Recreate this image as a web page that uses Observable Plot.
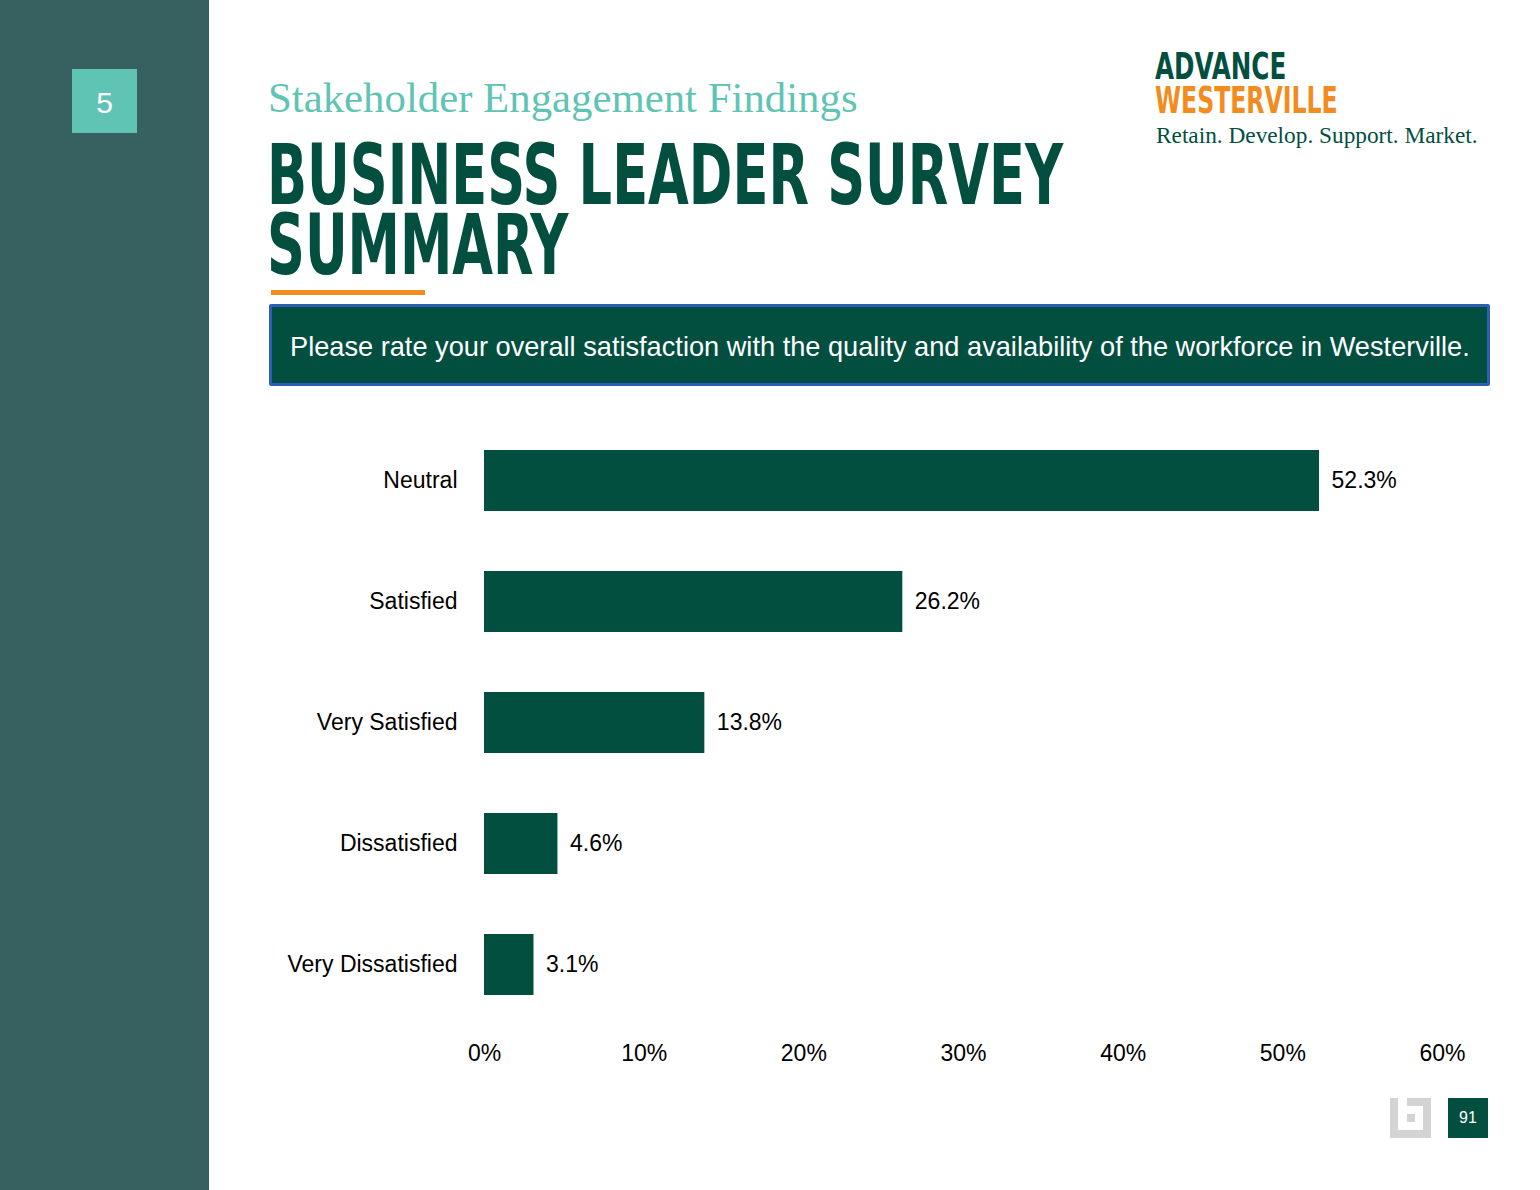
<!DOCTYPE html>
<html>
<head>
<meta charset="utf-8">
<script src="https://cdn.jsdelivr.net/npm/d3@7"></script>
<script src="https://cdn.jsdelivr.net/npm/@observablehq/plot@0.6"></script>
<style>
  html, body { margin: 0; padding: 0; }
  body { width: 1540px; height: 1190px; position: relative; background: #ffffff; overflow: hidden; font-family: "Liberation Sans", Arial, sans-serif; }
  .sidebar { position: absolute; left: 0; top: 0; width: 209px; height: 1190px; background: #376160; }
  .secnum { position: absolute; left: 72px; top: 69px; width: 65px; height: 64px; background: #5fc4b4; color: #fff; font-size: 30px; line-height: 30px; display: flex; align-items: center; justify-content: center; padding-top: 3px; box-sizing: border-box; }
  .kicker { position: absolute; left: 268px; top: 73px; font-family: "Liberation Serif", "DejaVu Serif", serif; font-size: 42.8px; color: #5fc4b4; white-space: nowrap; }
  .title { position: absolute; left: 267px; font-family: "DejaVu Sans Condensed", "DejaVu Sans", sans-serif; font-weight: bold; font-size: 84px; line-height: 70px; height: 70px; color: #024f3f; white-space: nowrap; transform-origin: 0 0; transform: scaleX(0.696); }
  .t1 { top: 140px; }
  .t2 { top: 210px; }
  .rule { position: absolute; left: 271px; top: 290px; width: 154px; height: 5px; background: #f28c1e; }
  .question { position: absolute; left: 269px; top: 304px; width: 1197px; height: 76px; background: #024f3f; border: 3px solid #2f5fb5; border-radius: 2px; color: #fff; font-size: 27.2px; display: flex; align-items: center; padding-left: 18px; padding-top: 3px; box-sizing: content-box; white-space: nowrap; }
  .question { height: 73px; }
  .logo1 { position: absolute; left: 1155px; top: 50px; height: 33px; font-family: "DejaVu Sans Condensed", "DejaVu Sans", sans-serif; font-weight: bold; font-size: 38px; line-height: 33px; color: #024f3f; transform-origin: 0 0; transform: scaleX(0.72); white-space: nowrap; }
  .logo2 { position: absolute; left: 1155px; top: 84px; height: 33px; font-family: "DejaVu Sans Condensed", "DejaVu Sans", sans-serif; font-weight: bold; font-size: 38px; line-height: 33px; color: #f28c1e; transform-origin: 0 0; transform: scaleX(0.69); white-space: nowrap; }
  .tagline { position: absolute; left: 1156px; top: 122px; font-family: "Liberation Serif", "DejaVu Serif", serif; font-size: 23.3px; line-height: 26px; color: #024f3f; white-space: nowrap; }
  #chart { position: absolute; left: 260px; top: 400px; }
  .icon { position: absolute; left: 1390px; top: 1098px; width: 41px; height: 40px; background: #d4d4d4; }
  .icon .in { position: absolute; left: 8px; top: 8px; width: 25px; height: 24px; background: #fff; }
  .icon .cut { position: absolute; left: 8px; top: 0px; width: 9px; height: 8px; background: #fff; }
  .icon .dot { position: absolute; left: 17px; top: 16px; width: 8px; height: 8px; background: #d4d4d4; }
  .pagenum { position: absolute; left: 1448px; top: 1098px; width: 40px; height: 40px; background: #024f3f; color: #fff; font-size: 16px; display: flex; align-items: center; justify-content: center; }
</style>
</head>
<body>
<div class="sidebar"></div>
<div class="secnum">5</div>
<div class="kicker">Stakeholder Engagement Findings</div>
<div class="title t1">BUSINESS LEADER SURVEY</div>
<div class="title t2">SUMMARY</div>
<div class="rule"></div>
<div class="question">Please rate your overall satisfaction with the quality and availability of the workforce in Westerville.</div>
<div class="logo1">ADVANCE</div>
<div class="logo2">WESTERVILLE</div>
<div class="tagline">Retain. Develop. Support. Market.</div>
<div id="chart"></div>
<div class="icon"><div class="in"></div><div class="cut"></div><div class="dot"></div></div>
<div class="pagenum">91</div>
<script>
const categories = ["Neutral", "Satisfied", "Very Satisfied", "Dissatisfied", "Very Dissatisfied"];
const values = [52.3, 26.2, 13.8, 4.6, 3.1];
const xTicks = [0, 10, 20, 30, 40, 50, 60];

const data = categories.map((c, i) => ({category: c, value: values[i]}));

const chart = Plot.plot({
  width: 1260,
  height: 675,
  marginLeft: 224,
  marginRight: 78,
  marginTop: 19.75,
  marginBottom: 50.25,
  style: {fontFamily: "'Liberation Sans', Arial, sans-serif", fontSize: "23px", color: "#000", background: "transparent", overflow: "visible"},
  x: {domain: [0, 60], ticks: xTicks, tickFormat: d => d + "%", tickSize: 0, tickPadding: 19, label: null},
  y: {domain: categories, paddingInner: 0.5, paddingOuter: 0.25, tickSize: 0, tickPadding: 27, label: null},
  marks: [
    Plot.barX(data, {x: "value", y: "category", fill: "#024f3f"}),
    Plot.text(data, {x: "value", y: "category", text: d => d.value.toFixed(1) + "%", textAnchor: "start", dx: 12, fill: "#000", fontSize: 23})
  ]
});
document.getElementById("chart").appendChild(chart);
</script>
</body>
</html>
